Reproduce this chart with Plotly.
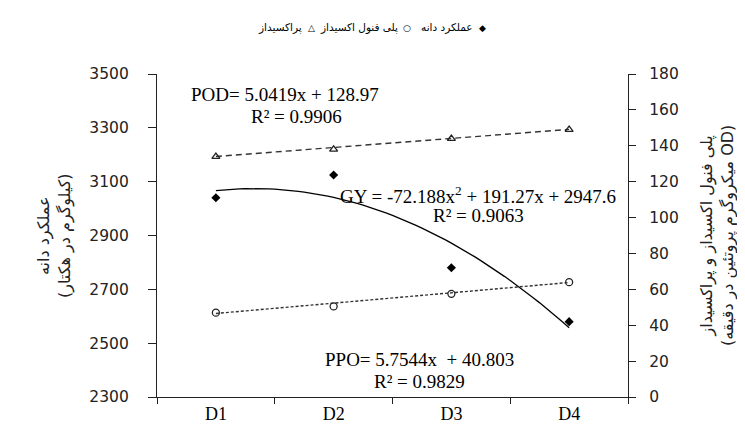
import numpy as np
import plotly.graph_objects as go

# ---- data ----
categories = ["D1", "D2", "D3", "D4"]
x_pos = [1, 2, 3, 4]
grain_yield = [3040, 3125, 2780, 2580]      # left axis
ppo_values = [47, 50.5, 57.5, 64]           # right axis
pod_values = [134, 138, 144, 149]           # right axis
left_ticks = [2300, 2500, 2700, 2900, 3100, 3300, 3500]
right_ticks = [0, 20, 40, 60, 80, 100, 120, 140, 160, 180]
left_title = "عملکرد دانه<br>(کیلوگرم در هکتار)"
right_title = "پلی فنول اکسیداز و پراکسیداز<br>(میکروگرم پروتئین در دقیقه OD)"

# trendline coefficients printed on the chart
gy_coef = [-72.188, 191.27, 2947.6]
pod_coef = [5.0419, 128.97]
ppo_coef = [5.7544, 40.803]

xs = np.linspace(1, 4, 61)

# plot-area pixel geometry
L, R, T, B = 149, 620, 66, 393
W, H = 745, 428


def px(x):
    return (x - L) / (R - L)


def py(y):
    return (B - y) / (B - T)


fig = go.Figure()

# GY trend + points
fig.add_trace(go.Scatter(x=xs, y=np.polyval(gy_coef, xs), mode="lines",
                         line=dict(color="black", width=1.3), yaxis="y",
                         showlegend=False, hoverinfo="skip"))
fig.add_trace(go.Scatter(x=x_pos, y=grain_yield, mode="markers",
                         marker=dict(symbol="diamond", size=7, color="black"),
                         yaxis="y", name="عملکرد دانه", showlegend=False))

# POD trend + points
fig.add_trace(go.Scatter(x=xs, y=np.polyval(pod_coef, xs), mode="lines",
                         line=dict(color="#333333", width=1.4, dash="6px,4px"),
                         yaxis="y2", showlegend=False, hoverinfo="skip"))
fig.add_trace(go.Scatter(x=x_pos, y=pod_values, mode="markers",
                         marker=dict(symbol="triangle-up-open", size=7, color="#222222",
                                     line=dict(width=1.3)),
                         yaxis="y2", name="پراکسیداز", showlegend=False))

# PPO trend + points
fig.add_trace(go.Scatter(x=xs, y=np.polyval(ppo_coef, xs), mode="lines",
                         line=dict(color="#333333", width=1.4, dash="3px,2px"),
                         yaxis="y2", showlegend=False, hoverinfo="skip"))
fig.add_trace(go.Scatter(x=x_pos, y=ppo_values, mode="markers",
                         marker=dict(symbol="circle-open", size=7, color="#222222",
                                     line=dict(width=1.3)),
                         yaxis="y2", name="پلی فنول اکسیداز", showlegend=False))

serif = "Liberation Serif"
sans = "DejaVu Sans"

annotations = []
eq_font = dict(family=serif, size=19, color="black")


def add_text(text, x, y, font, xanchor="center", yanchor="middle", textangle=0):
    annotations.append(dict(text=text, x=px(x), y=py(y), xref="paper", yref="paper",
                            showarrow=False, font=font, xanchor=xanchor, yanchor=yanchor,
                            textangle=textangle))


add_text("POD= 5.0419x + 128.97", 277, 87, eq_font)
add_text("R² = 0.9906", 288, 109, eq_font)
add_text("GY = -72.188x<sup>2</sup> + 191.27x + 2947.6", 470, 188, eq_font)
add_text("R² = 0.9063", 470, 209, eq_font)
add_text("PPO= 5.7544x  + 40.803", 411, 355, eq_font)
add_text("R² = 0.9829", 411, 377, eq_font)

# axis titles (two rotated lines each)
title_font = dict(family=sans, size=16, color="#222222")
add_text(left_title, 47, 230, title_font, textangle=-90)
add_text(right_title, 710, 230, title_font, textangle=-90)

# legend (right-to-left, symbol on the right of each label)
leg_font = dict(family=sans, size=10.5, color="black")
sym_font = dict(family=sans, size=9, color="black")
leg_y = 19
add_text("عملکرد دانه", 467, leg_y, leg_font, xanchor="right")
add_text("◆", 474, leg_y, sym_font)
add_text("پلی فنول اکسیداز", 392, leg_y, leg_font, xanchor="right")
add_text("○", 399, leg_y, sym_font)
add_text("پراکسیداز", 296, leg_y, leg_font, xanchor="right")
add_text("△", 303, leg_y, sym_font)

fig.update_layout(
    width=W, height=H,
    margin=dict(l=L, r=W - R, t=T, b=H - B, pad=0),
    paper_bgcolor="white", plot_bgcolor="white",
    annotations=annotations,
    showlegend=False,
    xaxis=dict(range=[0.5, 4.5], tickvals=x_pos, ticktext=categories, ticks="",
               showline=True, linecolor="#222222", linewidth=1.2, showgrid=False,
               zeroline=False, tickfont=dict(family=serif, size=18, color="black"),
               minor=dict(tickvals=[0.5, 1.5, 2.5, 3.5, 4.5], ticks="outside",
                          ticklen=6, tickcolor="#222222", tickwidth=1.2)),
    yaxis=dict(range=[2300, 3500], tickvals=left_ticks, ticks="outside", ticklen=8,
               tickcolor="#222222", tickwidth=1.2, showline=True, linecolor="#222222",
               linewidth=1.2, showgrid=False, zeroline=False, ticklabelstandoff=16,
               tickfont=dict(family=sans, size=15.5, color="#222222")),
    yaxis2=dict(range=[0, 180], tickvals=right_ticks, overlaying="y", side="right",
                ticks="outside", ticklen=7, tickcolor="#222222", tickwidth=1.2,
                showline=True, linecolor="#222222", linewidth=1.2, showgrid=False,
                zeroline=False, ticklabelstandoff=10,
                tickfont=dict(family=sans, size=15.5, color="#222222")),
)

fig.write_html("out.html")
